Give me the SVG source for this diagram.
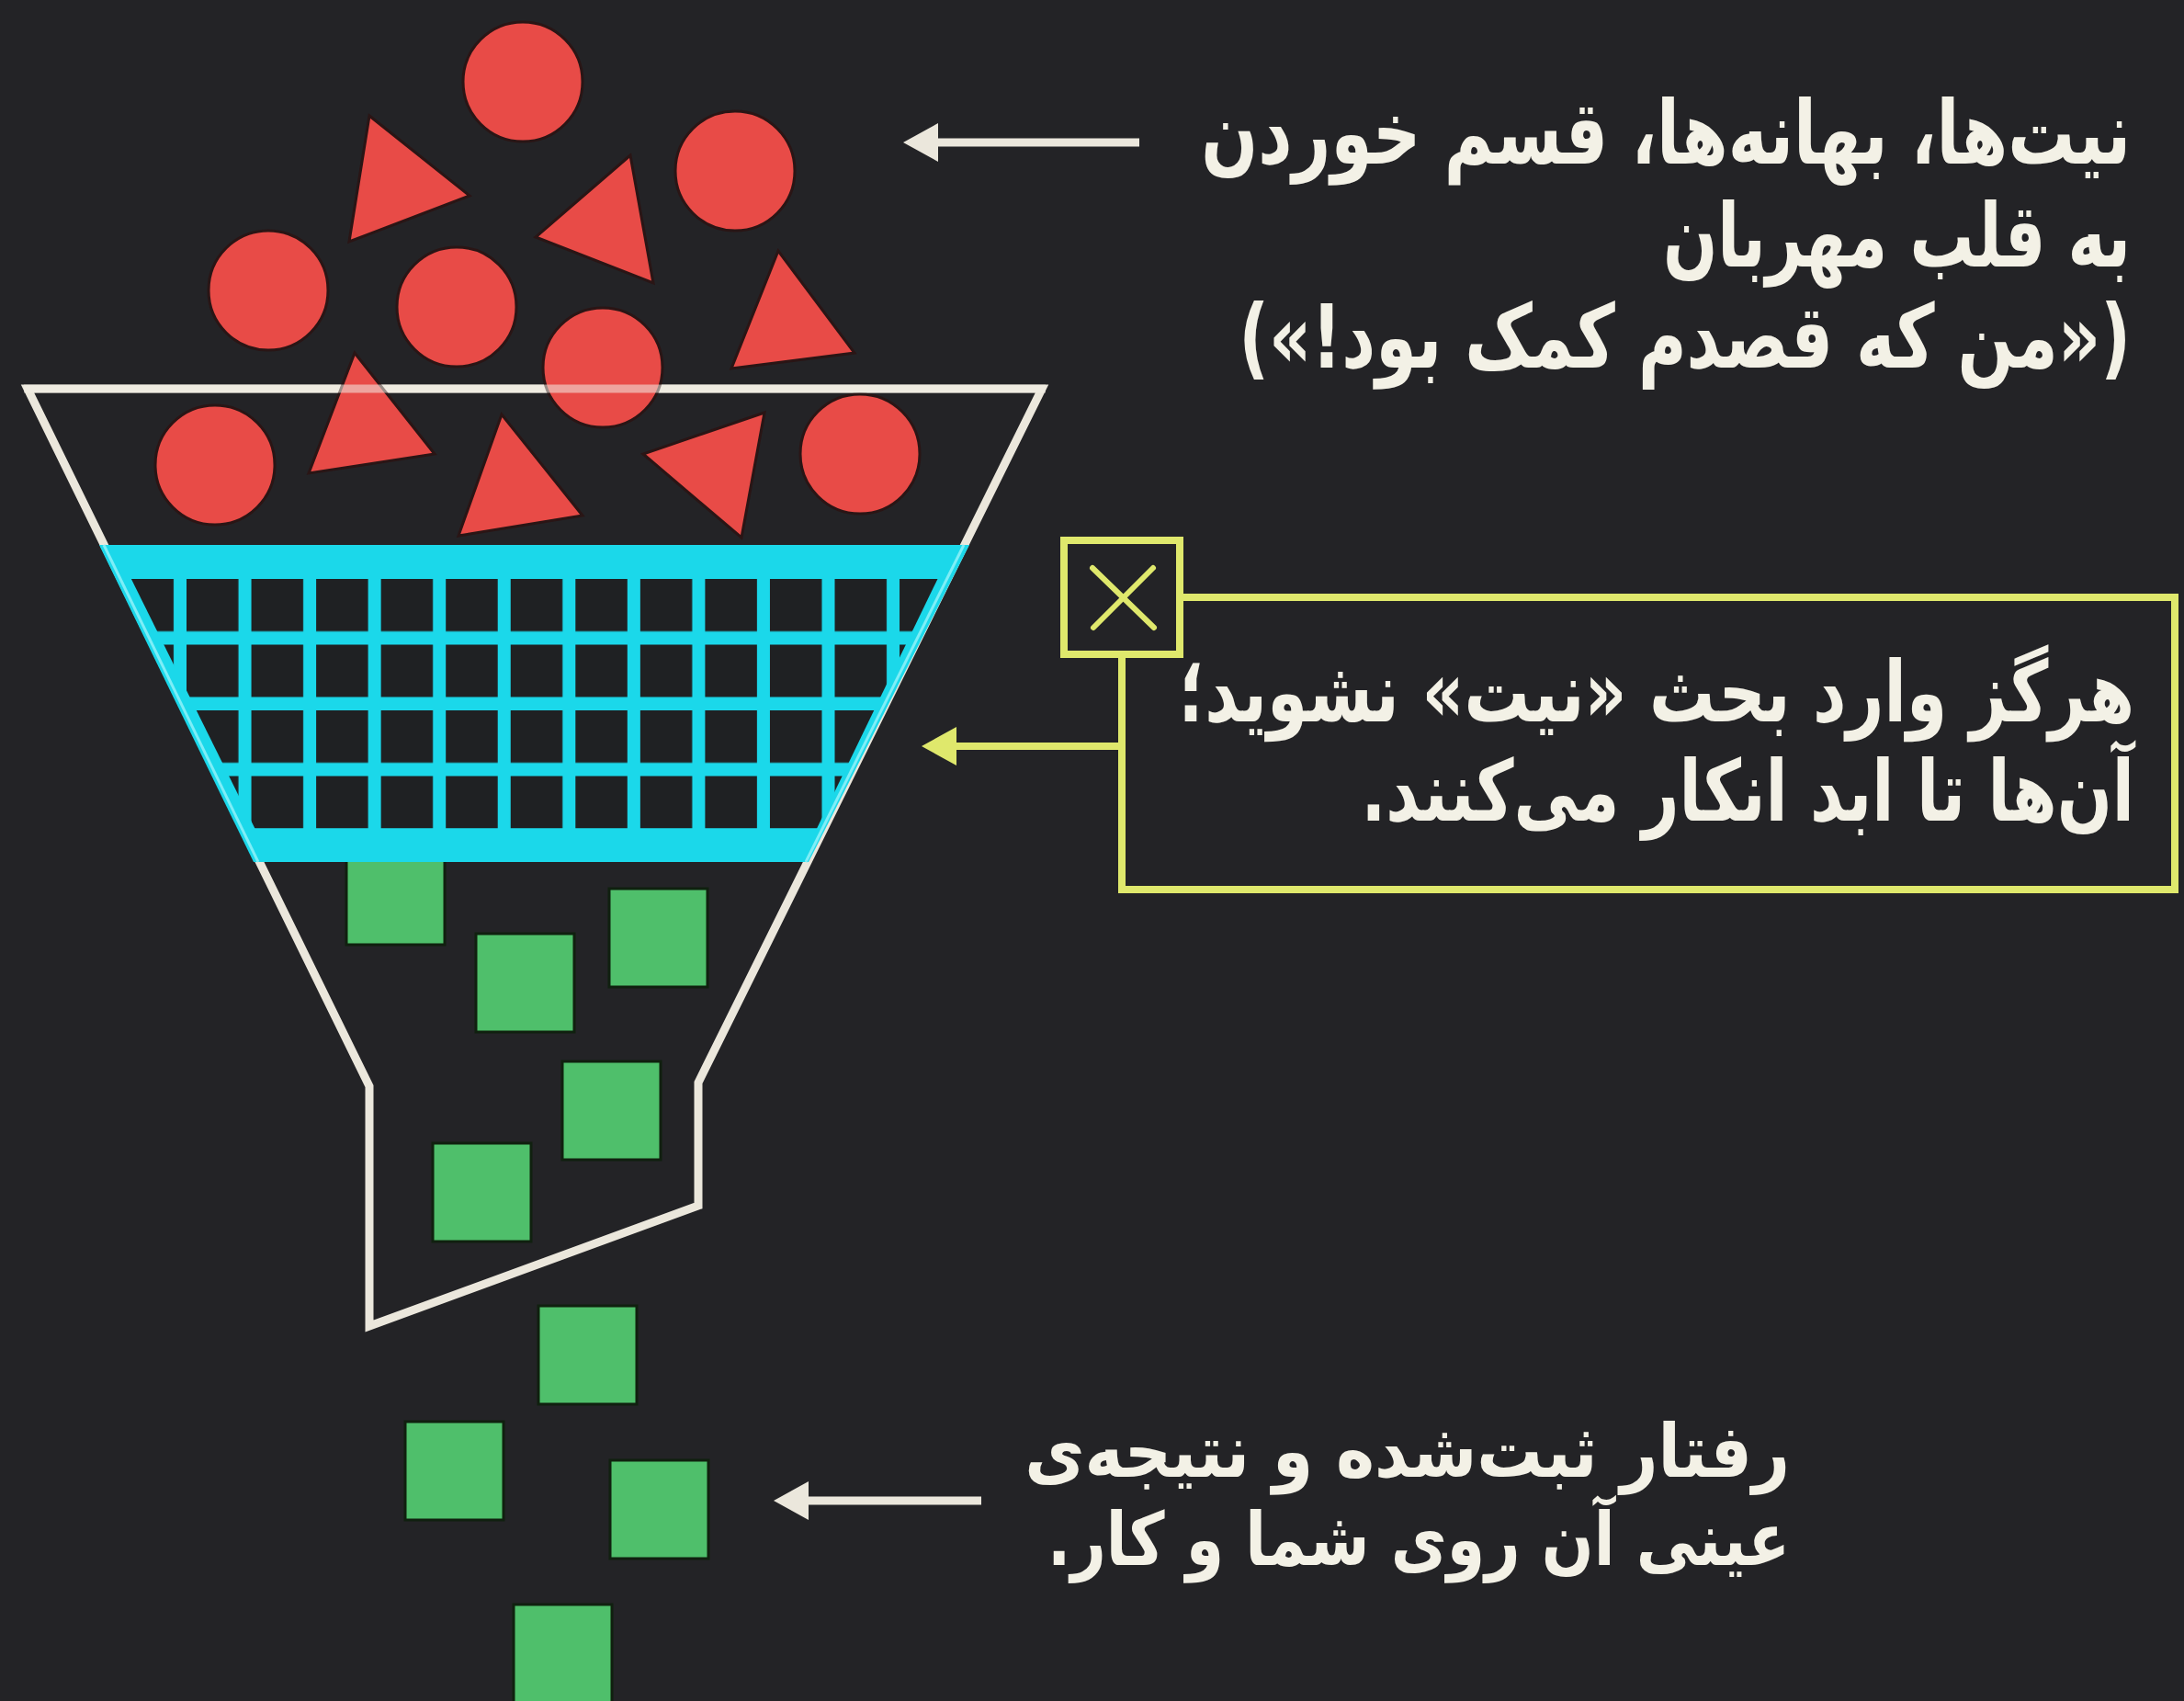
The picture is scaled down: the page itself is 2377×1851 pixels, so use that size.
<svg xmlns="http://www.w3.org/2000/svg" xmlns:xlink="http://www.w3.org/1999/xlink" width="2377" height="1851" viewBox="0 0 2377 1851">
  <style>
    .bg { fill: #232326; }
    .red { fill: #e84b47; stroke: #2a1515; stroke-width: 3; }
    .green { fill: #4fbf6b; stroke: #10200f; stroke-width: 3; }
    .outline { fill: none; stroke: #ebe7dc; stroke-width: 9; stroke-linejoin: miter; }
    .cyan { fill: #1bd8ea; }
    .cell { fill: #1f2123; }
    .yellow { fill: none; stroke: #dfe86c; stroke-width: 8; }
    .xmark { fill: none; stroke: #dfe86c; stroke-width: 6; stroke-linecap: round; }
    .wline { stroke: #ebe7dc; stroke-width: 9; }
    .yline { stroke: #dfe86c; stroke-width: 8; }
    .label { font-family: "DejaVu Sans", sans-serif; font-weight: bold; fill: #f3f1e6; }
  </style>
  <defs>
    <path id="head" d="M0,0 L38,-21 L38,21 Z"/>
    <pattern id="mesh" patternUnits="userSpaceOnUse" x="203" y="630" width="70.55" height="71.5">
      <rect class="cell" x="0" y="0" width="56.5" height="57"/>
    </pattern>
    <clipPath id="mesh-clip">
      <!-- funnel interior, inset from the side walls -->
      <polygon points="128,600 1035,600 868,945 299,945"/>
    </clipPath>
  </defs>

  <rect class="bg" x="0" y="0" width="2377" height="1851"/>

  <!-- funnel body -->
  <g id="funnel">
    <path class="outline" d="M30,423 L1134,423 L760,1178 L760,1312 L402,1443 L402,1182 Z"/>
  </g>

  <!-- squares that passed the filter -->
  <g id="results">
    <rect class="green" x="377" y="921" width="107" height="107"/>
    <rect class="green" x="518" y="1016" width="107" height="107"/>
    <rect class="green" x="663" y="967" width="107" height="107"/>
    <rect class="green" x="612" y="1155" width="107" height="107"/>
    <rect class="green" x="471" y="1244" width="107" height="107"/>
    <rect class="green" x="586" y="1421" width="107" height="107"/>
    <rect class="green" x="441" y="1547" width="107" height="107"/>
    <rect class="green" x="664" y="1589" width="107" height="107"/>
    <rect class="green" x="559" y="1746" width="107" height="107"/>
  </g>

  <!-- mesh filter -->
  <g id="filter">
    <polygon class="cyan" points="108,593 1055,593 880,938 276,938"/>
    <rect x="100" y="630" width="980" height="271.5" fill="url(#mesh)" clip-path="url(#mesh-clip)"/>
    <line x1="113" y1="593" x2="281" y2="938" stroke="#7eeef7" stroke-width="3"/>
    <line x1="1049" y1="593" x2="877" y2="938" stroke="#7eeef7" stroke-width="3"/>
  </g>

  <!-- intentions and excuses -->
  <g id="inputs">
    <circle class="red" cx="569" cy="89" r="65"/>
    <circle class="red" cx="800" cy="186" r="65"/>
    <circle class="red" cx="292" cy="316" r="65"/>
    <circle class="red" cx="497" cy="334" r="65"/>
    <circle class="red" cx="656" cy="400" r="65"/>
    <circle class="red" cx="234" cy="506" r="65"/>
    <circle class="red" cx="936" cy="494" r="65"/>
    <polygon class="red" points="402,126 511,213 380,263"/>
    <polygon class="red" points="686,169 583,258 711,308"/>
    <polygon class="red" points="847,273 796,401 930,384"/>
    <polygon class="red" points="386,384 336,515 473,494"/>
    <polygon class="red" points="546,451 499,583 634,561"/>
    <polygon class="red" points="832,449 700,494 807,585"/>
  </g>

  <!-- rim of the funnel seen over the shapes -->
  <line x1="26" y1="423" x2="1138" y2="423" stroke="#f3efe6" stroke-width="9" stroke-opacity="0.55"/>

  <!-- connectors -->
  <g id="connectors">
    <line class="wline" x1="1018" y1="155" x2="1240" y2="155"/>
    <use href="#head" x="983" y="155" fill="#ebe7dc"/>
    <line class="yline" x1="1038" y1="812" x2="1221" y2="812"/>
    <use href="#head" x="1003" y="812" fill="#dfe86c"/>
    <line class="wline" x1="876" y1="1633" x2="1068" y2="1633"/>
    <use href="#head" x="842" y="1633" fill="#ebe7dc"/>
  </g>

  <!-- callout box with the warning -->
  <g id="warning">
    <rect class="yellow" x="1221" y="650" width="1146" height="318"/>
    <rect x="1158" y="588" width="126" height="124" fill="#232326"/>
    <rect class="yellow" x="1158" y="588" width="126" height="124"/>
    <line class="xmark" x1="1189" y1="618" x2="1256" y2="683"/>
    <line class="xmark" x1="1255" y1="618" x2="1190" y2="683"/>
  </g>

  <g id="label-inputs" class="label" font-size="96">
    <text transform="translate(2319,178) scale(0.757,1)" direction="rtl" text-anchor="start">نیت&#x200C;ها، بهانه&#x200C;ها، قسم خوردن</text>
    <text transform="translate(2319,290) scale(0.726,1)" direction="rtl" text-anchor="start">به قلب مهربان</text>
    <text transform="translate(2319,400) scale(0.749,1)" direction="rtl" text-anchor="start">(«من که قصدم کمک بود!»)</text>
  </g>

  <g id="label-warning" class="label" font-size="92">
    <text transform="translate(2323,785) scale(0.773,1)" direction="rtl" text-anchor="start">هرگز وارد بحث «نیت» نشوید؛</text>
    <text transform="translate(2323,893) scale(0.766,1)" direction="rtl" text-anchor="start">آن&#x200C;ها تا ابد انکار می&#x200C;کنند.</text>
  </g>

  <g id="label-results" class="label" font-size="80">
    <text transform="translate(1948,1607) scale(0.891,1)" direction="rtl" text-anchor="start">رفتار ثبت&#x200C;شده و نتیجه&#x200C;ی</text>
    <text transform="translate(1948,1703) scale(0.833,1)" direction="rtl" text-anchor="start">عینی آن روی شما و کار.</text>
  </g>
</svg>
